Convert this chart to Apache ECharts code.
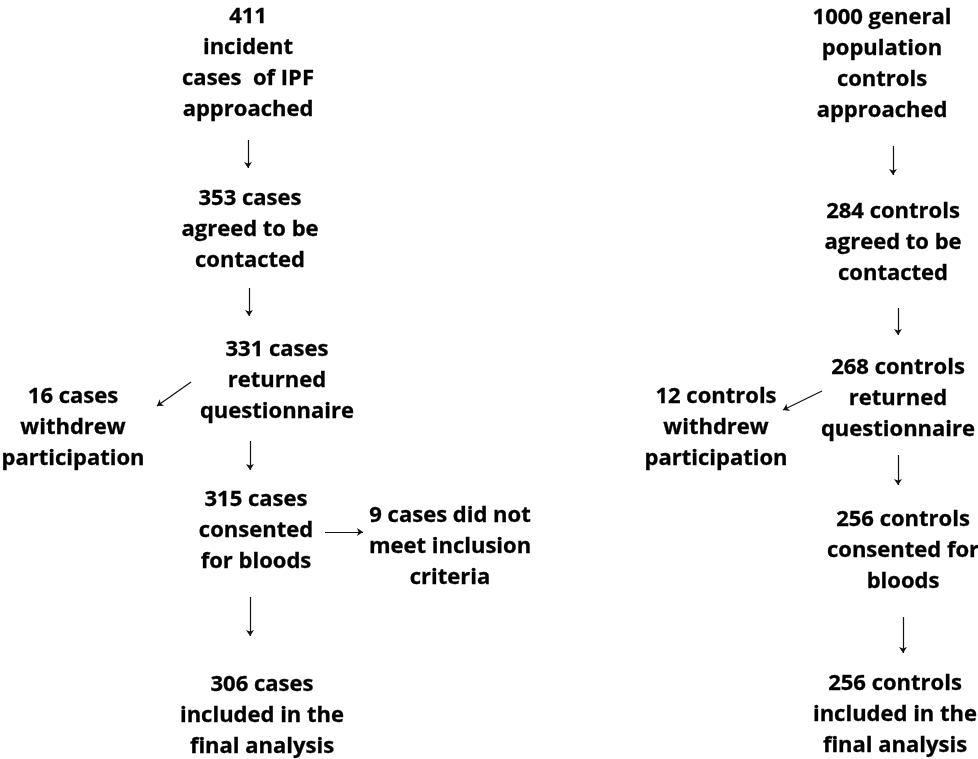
<!DOCTYPE html>
<html>
<head>
<meta charset="utf-8">
<script src="https://cdn.jsdelivr.net/npm/echarts@6/dist/echarts.min.js"></script>
<style>
  html, body { margin: 0; padding: 0; background: #fff; }
  #chart { width: 978px; height: 759px; }
</style>
</head>
<body>
<div id="chart"></div>
<script>
// flowchart boxes (text) and where their centres sit on the page
const boxLabels = [
  "411\nincident\ncases  of IPF\napproached",
  "353 cases\nagreed to be\ncontacted",
  "331 cases\nreturned\nquestionnaire",
  "16 cases\nwithdrew\nparticipation",
  "315 cases\nconsented\nfor bloods",
  "9 cases did not\nmeet inclusion\ncriteria",
  "306 cases\nincluded in the\nfinal analysis",
  "1000 general\npopulation\ncontrols\napproached",
  "284 controls\nagreed to be\ncontacted",
  "268 controls\nreturned\nquestionnaire",
  "12 controls\nwithdrew\nparticipation",
  "256 controls\nconsented for\nbloods",
  "256 controls\nincluded in the\nfinal analysis"
];
const boxX = [248, 250, 277, 73, 256, 450, 262, 882, 893, 898, 716, 903, 895];
const boxY = [63, 230, 381, 428, 531, 547, 716, 64, 243, 399, 428, 551, 715];

// arrows: start and end points
const arrowFrom = [
  [248, 140], [249, 288], [191, 382], [250, 441], [325, 532], [250, 597],
  [893, 146], [898, 308], [822, 391], [898, 455], [903, 617]
];
const arrowTo = [
  [248, 168], [249, 316], [157, 406], [250, 470], [363, 532], [250, 636],
  [893, 175], [898, 335], [783, 410], [898, 485], [903, 653]
];

const chart = echarts.init(document.getElementById("chart"));

const boxData = boxLabels.map((name, i) => ({ name, value: [boxX[i], boxY[i]] }));
const arrowData = arrowFrom.map((p, i) => ({ coords: [p, arrowTo[i]] }));

const option = {
  backgroundColor: "#fff",
  animation: false,
  grid: { left: 0, right: 0, top: 0, bottom: 0 },
  xAxis: { type: "value", min: 0, max: 978, show: false },
  yAxis: { type: "value", min: 0, max: 759, inverse: true, show: false },
  series: [
    {
      type: "scatter",
      symbolSize: 0,
      itemStyle: { opacity: 1 },
      data: boxData,
      label: {
        show: true,
        position: "inside",
        formatter: "{b}",
        color: "#000",
        fontFamily: "Open Sans",
        fontWeight: "bold",
        fontSize: 22,
        lineHeight: 31,
        align: "center",
        verticalAlign: "middle",
        textBorderColor: "#000",
        textBorderWidth: 0.3
      }
    },
    {
      type: "lines",
      coordinateSystem: "cartesian2d",
      symbol: ["none", "arrow"],
      symbolSize: 6,
      lineStyle: { color: "#111", width: 1.2, opacity: 1 },
      data: arrowData
    }
  ]
};
chart.setOption(option);
</script>
</body>
</html>
